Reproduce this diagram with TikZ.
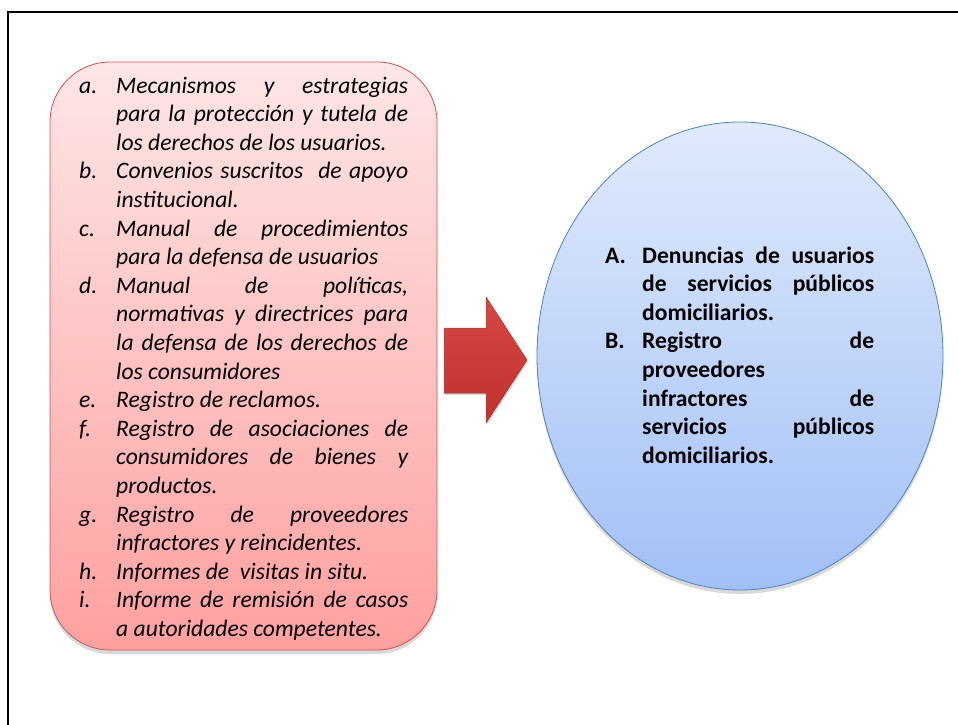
\documentclass[tikz,border=0pt]{standalone}
\usepackage{fontspec}
\setmainfont{Carlito}
\usetikzlibrary{shapes.geometric,shadows}
\definecolor{boxtop}{RGB}{253,230,230}
\definecolor{boxbot}{RGB}{255,160,160}
\definecolor{boxedge}{RGB}{205,85,85}
\definecolor{elltop}{RGB}{224,234,252}
\definecolor{ellbot}{RGB}{162,192,246}
\definecolor{elledge}{RGB}{79,129,189}
\definecolor{arrtop}{RGB}{214,72,66}
\definecolor{arrbot}{RGB}{192,48,46}
\definecolor{arredge}{RGB}{160,70,70}
\newcommand\lab[1]{\makebox[37pt][l]{#1}}
\newcommand\jl[1]{\makebox[292pt][s]{#1}}
\newcommand\jr[1]{\makebox[232pt][s]{#1}}
\tikzset{
  listbox/.style={draw=boxedge, line width=0.8pt, rounded corners=60pt,
    top color=boxtop, bottom color=boxbot, minimum width=387pt,
    minimum height=588pt, inner sep=0pt,
    drop shadow={opacity=0.3, shadow xshift=0pt, shadow yshift=-4pt}},
  outell/.style={ellipse, draw=elledge, line width=0.8pt,
    top color=elltop, bottom color=ellbot, minimum width=406pt,
    minimum height=468pt, inner sep=0pt,
    drop shadow={opacity=0.3, shadow xshift=0pt, shadow yshift=-4pt}},
  bigarrow/.style={draw=arredge, line width=0.5pt, top color=arrtop,
    bottom color=arrbot,
    drop shadow={opacity=0.3, shadow xshift=1pt, shadow yshift=-2pt}},
  listtext/.style={anchor=base west, inner sep=0pt, font=\fontsize{23.6}{28.6}\selectfont}
}
\begin{document}
\begin{tikzpicture}[x=1pt,y=-1pt]
\useasboundingbox (0,0) rectangle (958,725);
\draw[line width=2pt] (8,740) -- (8,12) -- (970,12);
\node[listbox] (src) at (243.5,356) {};
\node[outell] (dst) at (740,356) {};
\filldraw[bigarrow] (444,328) -- (486,328) -- (486,297) -- (527,360) -- (486,423) -- (486,393) -- (444,393) -- cycle;
\node[listtext] (srctext) at (79,93) {\parbox[t]{330pt}{\fontsize{23.6}{28.6}\selectfont\itshape
\lab{a.}\jl{Mecanismos y estrategias}\\
\lab{}\jl{para la protección y tutela de}\\
\lab{}los derechos de los usuarios.\\
\lab{b.}\jl{Convenios suscritos \ de apoyo}\\
\lab{}institucional.\\
\lab{c.}\jl{Manual de procedimientos}\\
\lab{}para la defensa de usuarios\\
\lab{d.}\jl{Manual de políticas,}\\
\lab{}\jl{normativas y directrices para}\\
\lab{}\jl{la defensa de los derechos de}\\
\lab{}los consumidores\\
\lab{e.}Registro de reclamos.\\
\lab{f.}\jl{Registro de asociaciones de}\\
\lab{}\jl{consumidores de bienes y}\\
\lab{}productos.\\
\lab{g.}\jl{Registro de proveedores}\\
\lab{}infractores y reincidentes.\\
\lab{h.}Informes de \ visitas in situ.\\
\lab{i.}\jl{Informe de remisión de casos}\\
\lab{}a autoridades competentes.}};
\node[listtext] (dsttext) at (605,263) {\parbox[t]{270pt}{\fontsize{23.6}{28.6}\selectfont\bfseries
\lab{A.}\jr{Denuncias de usuarios}\\
\lab{}\jr{de servicios públicos}\\
\lab{}domiciliarios.\\
\lab{B.}\jr{Registro de}\\
\lab{}proveedores\\
\lab{}\jr{infractores de}\\
\lab{}\jr{servicios públicos}\\
\lab{}domiciliarios.}};
\end{tikzpicture}
\end{document}
